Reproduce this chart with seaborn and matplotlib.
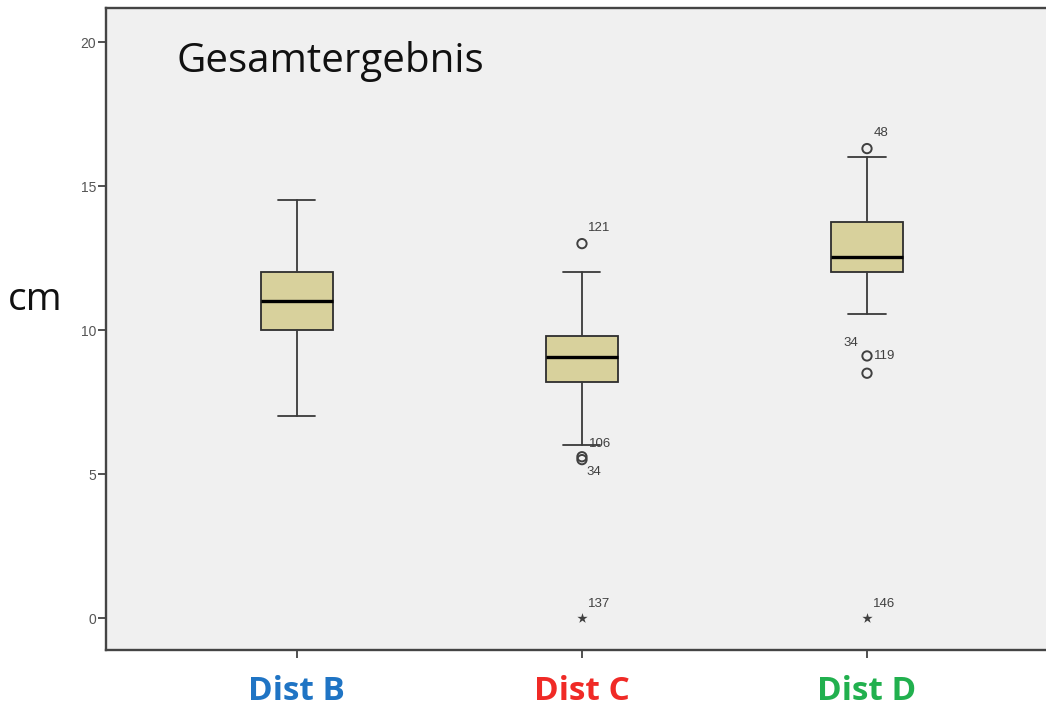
import matplotlib
matplotlib.use("Agg")
import matplotlib.pyplot as plt
import seaborn as sns
import numpy as np
import pandas as pd

# ---- data ----
categories = ["Dist B", "Dist C", "Dist D"]
label_colors = ["#1f74c4", "#f02a26", "#21b04e"]
whisker_low = [7.0, 6.0, 10.55]
q1 = [10.0, 8.2, 12.0]
median = [11.0, 9.05, 12.55]
q3 = [12.0, 9.8, 13.75]
whisker_high = [14.5, 12.0, 16.0]

outlier_cat = ["Dist C", "Dist C", "Dist C", "Dist D", "Dist D", "Dist D"]
outlier_val = [13.0, 5.6, 5.5, 16.3, 9.1, 8.5]
outlier_ids = ["121", "106", "34", "48", "119", ""]

extreme_cat = ["Dist C", "Dist D"]
extreme_val = [0.0, 0.0]
extreme_ids = ["137", "146"]

yticks = [0, 5, 10, 15, 20]

sns.set_style("white")
plt.rcParams["font.family"] = ["Open Sans", "DejaVu Sans"]

fig = plt.figure(figsize=(10.46, 7.11), dpi=100)
ax = fig.add_axes([0.1013, 0.0858, 0.8987, 0.9029])
ax.set_facecolor("#f0f0f0")

stats = []
for i, c in enumerate(categories):
    stats.append(dict(label=c, whislo=whisker_low[i], q1=q1[i], med=median[i],
                      q3=q3[i], whishi=whisker_high[i], fliers=[]))
pos = list(range(len(categories)))
ax.bxp(stats, positions=pos, widths=0.25, patch_artist=True, showfliers=False,
       boxprops=dict(facecolor="#d8d19c", edgecolor="#2e2e2e", linewidth=1.3),
       medianprops=dict(color="#000000", linewidth=2.4),
       whiskerprops=dict(color="#3a3a3a", linewidth=1.3),
       capprops=dict(color="#3a3a3a", linewidth=1.3),
       capwidths=0.13)

cat_idx = {c: i for i, c in enumerate(categories)}
odf = pd.DataFrame({"x": [cat_idx[c] for c in outlier_cat], "y": outlier_val})
sns.scatterplot(data=odf, x="x", y="y", ax=ax, marker="o", s=45,
                facecolor="none", edgecolor="#404040", linewidth=1.4, zorder=5)
edf = pd.DataFrame({"x": [cat_idx[c] for c in extreme_cat], "y": extreme_val})
sns.scatterplot(data=edf, x="x", y="y", ax=ax, marker="*", s=60,
                color="#404040", linewidth=0, zorder=5)

lab_kw = dict(fontsize=9.5, color="#404040", family=["Liberation Sans", "DejaVu Sans"],
              textcoords="offset points", ha="left", va="center")
offsets = {
    ("Dist C", "121"): (4, 11),
    ("Dist C", "106"): (5, 9),
    ("Dist C", "34"): (3, -9),
    ("Dist D", "48"): (5, 11),
    ("Dist D", "119"): (5, 0),
}
for c, v, t in zip(outlier_cat, outlier_val, outlier_ids):
    if not t:
        continue
    ax.annotate(t, (cat_idx[c], v), xytext=offsets[(c, t)], **lab_kw)
# second id at D's 9.1 point
ax.annotate("34", (cat_idx["Dist D"], 9.1), xytext=(-17, 9.5), **lab_kw)
for c, v, t in zip(extreme_cat, extreme_val, extreme_ids):
    ax.annotate(t, (cat_idx[c], v), xytext=(4, 10), **lab_kw)

ax.set_xlim(-0.67, 2.628)
ax.set_ylim(-1.11, 21.18)
ax.set_yticks(yticks)
ax.set_yticklabels([str(t) for t in yticks], fontsize=10, color="#555555",
                   family=["Liberation Sans", "DejaVu Sans"])
ax.set_xticks(pos)
ax.set_xticklabels(categories)
for lbl, col in zip(ax.get_xticklabels(), label_colors):
    lbl.set_color(col)
    lbl.set_fontsize(24)
    lbl.set_fontweight("bold")
ax.tick_params(axis="y", direction="out", length=6, width=1.2, color="#333333", pad=1, left=True)
ax.tick_params(axis="x", direction="out", length=6, width=1.2, color="#333333", pad=12, bottom=True)

for s in ["left", "bottom", "top"]:
    ax.spines[s].set_visible(True)
    ax.spines[s].set_color("#444444")
    ax.spines[s].set_linewidth(1.7)
ax.spines["right"].set_visible(False)

ax.set_xlabel("")
ax.set_ylabel("")
ax.text(0.075, 0.917, "Gesamtergebnis", transform=ax.transAxes, fontsize=29,
        color="#111111", ha="left", va="center")
fig.text(0.008, 0.578, "cm", fontsize=28, color="#111111", ha="left", va="center")

fig.savefig("out.png", dpi=100)
